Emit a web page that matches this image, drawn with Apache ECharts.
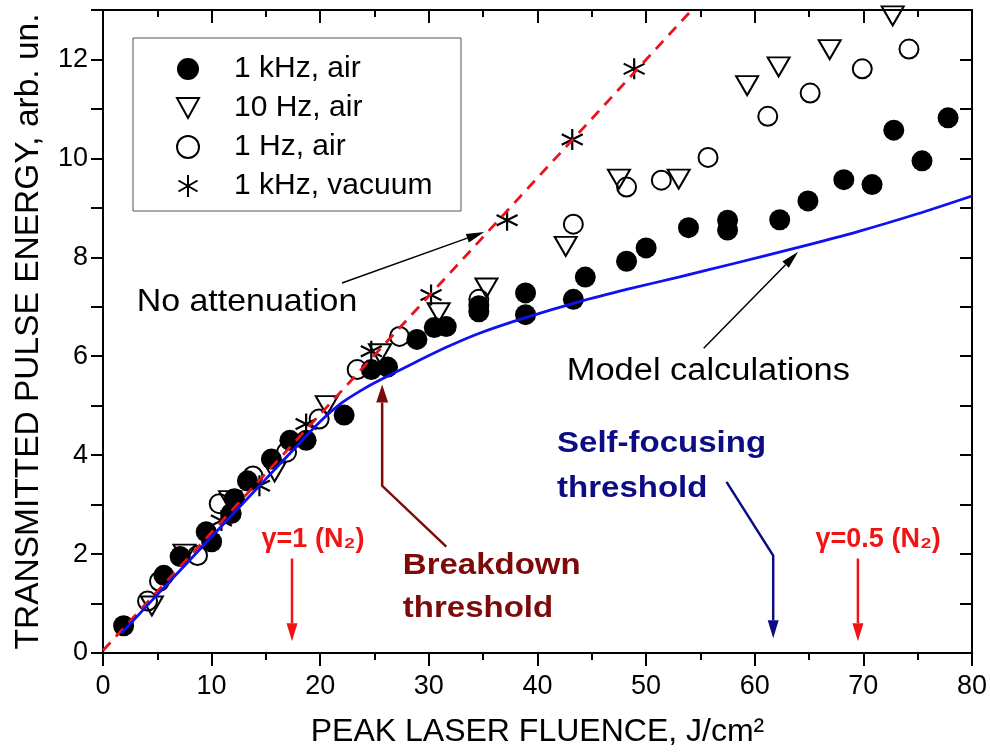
<!DOCTYPE html>
<html>
<head>
<meta charset="utf-8">
<script src="https://cdn.jsdelivr.net/npm/echarts@6/dist/echarts.min.js"></script>
<style>
  html, body { margin: 0; padding: 0; background: #fff; }
  #chart { width: 990px; height: 753px; }
</style>
</head>
<body>
<div id="chart"></div>
<script>
// measured points [fluence J/cm2, energy arb. un.]
const kHzAir = [
  [1.9, 0.55], [5.6, 1.57], [7.1, 1.95], [9.5, 2.45], [10.0, 2.25], [11.8, 2.82],
  [12.1, 3.12], [13.3, 3.48], [15.5, 3.92], [17.2, 4.3], [18.7, 4.3], [22.2, 4.81],
  [24.7, 5.73], [26.2, 5.78], [28.9, 6.34], [30.5, 6.58], [31.6, 6.6], [34.6, 6.9],
  [34.6, 7.02], [38.9, 7.28], [38.9, 6.84], [43.3, 7.15], [44.4, 7.6], [48.2, 7.92],
  [50.0, 8.19], [53.9, 8.6], [57.5, 8.75], [57.5, 8.55], [62.3, 8.76], [64.9, 9.14],
  [68.2, 9.57], [70.8, 9.47], [72.8, 10.57], [75.4, 9.95], [77.8, 10.82]
]
const tenHzAir = [
  [4.5, 0.95], [7.5, 2.0], [11.7, 3.08], [15.8, 3.66], [20.6, 5.0], [25.5, 6.05],
  [30.9, 6.88], [35.3, 7.38], [42.6, 8.22], [47.5, 9.58], [53.0, 9.58], [59.3, 11.47],
  [62.2, 11.85], [66.9, 12.2], [72.7, 12.88]
]
const oneHzAir = [
  [4.1, 1.05], [5.2, 1.45], [8.7, 1.97], [10.7, 3.02], [13.8, 3.58], [16.9, 4.06],
  [19.9, 4.73], [23.4, 5.73], [27.3, 6.4], [34.6, 7.15], [43.3, 8.67], [48.2, 9.42],
  [51.4, 9.56], [55.7, 10.02], [61.2, 10.85], [65.1, 11.32], [69.9, 11.81], [74.2, 12.21]
]
const kHzVacuum = [
  [10.9, 2.68], [14.4, 3.38], [18.7, 4.63], [24.7, 6.1], [30.2, 7.24], [37.2, 8.75],
  [43.2, 10.38], [48.9, 11.81]
]
// no attenuation line and model calculation curve
const noAttenuation = [[0, 0.05], [54.2, 13.0]]
const model = [
  [1.7, 0.4], [5, 1.18], [10, 2.35], [15, 3.52], [18, 4.22], [20, 4.68], [22, 5.06],
  [24, 5.34], [25.5, 5.52], [28.5, 5.85], [31.6, 6.18], [34.6, 6.46], [38.9, 6.78],
  [43.8, 7.1], [48.4, 7.36], [53, 7.6], [58, 7.87], [64, 8.2], [69.5, 8.52],
  [75, 8.88], [80, 9.24]
]
const xRange = [0, 80]
const yRange = [0, 13]
const legendNames = ['1 kHz, air', '10 Hz, air', '1 Hz, air', '1 kHz, vacuum']

const FONT = '"Liberation Sans", Arial, sans-serif'
const triDown = 'path://M0,0 L20,0 L10,18 Z'
const star = 'path://M10,0 L10,20 M1.34,5 L18.66,15 M1.34,15 L18.66,5'

const chart = echarts.init(document.getElementById('chart'))

const xBase = {
  type: 'value', min: xRange[0], max: xRange[1], interval: 10,
  splitLine: { show: false },
  axisLine: { onZero: false, lineStyle: { color: '#000', width: 2 } },
  axisTick: { length: 13, lineStyle: { color: '#000', width: 2 } },
  minorTick: { show: true, splitNumber: 2, length: 7, lineStyle: { color: '#000', width: 2 } }
}
const yBase = {
  type: 'value', min: yRange[0], max: yRange[1], interval: 1,
  splitLine: { show: false },
  axisLine: { onZero: false, lineStyle: { color: '#000', width: 2 } },
  axisTick: { length: 12, lineStyle: { color: '#000', width: 2 } }
}

const option = {
  animation: false,
  grid: { left: 103, right: 16, top: 10, bottom: 98 },
  legend: {
    data: legendNames,
    orient: 'vertical',
    left: 171,
    top: 45,
    itemWidth: 22,
    itemHeight: 22,
    itemGap: 1,
    selectedMode: false,
    textStyle: { fontSize: 30, lineHeight: 38, fontFamily: FONT, color: '#000', padding: [0, 0, 0, 30] }
  },
  xAxis: [
    Object.assign({}, xBase, {
      position: 'bottom',
      axisTick: Object.assign({}, xBase.axisTick, { inside: false }),
      minorTick: Object.assign({}, xBase.minorTick),
      axisLabel: { fontSize: 27, color: '#000', fontFamily: FONT, margin: 20 },
      name: 'PEAK LASER FLUENCE, J/cm²',
      nameLocation: 'middle',
      nameGap: 63,
      nameTextStyle: { fontSize: 32, color: '#000', fontFamily: FONT }
    }),
    Object.assign({}, xBase, {
      position: 'top',
      axisTick: Object.assign({}, xBase.axisTick, { inside: true }),
      axisLabel: { show: false }
    })
  ],
  yAxis: [
    Object.assign({}, yBase, {
      position: 'left',
      axisTick: Object.assign({}, yBase.axisTick, { inside: false }),
      axisLabel: {
        fontSize: 27, color: '#000', fontFamily: FONT, margin: 15,
        formatter: v => (v % 2 === 0 ? String(v) : '')
      },
      name: 'TRANSMITTED PULSE ENERGY, arb. un.',
      nameLocation: 'middle',
      nameGap: 57,
      nameTextStyle: { fontSize: 33.5, color: '#000', fontFamily: FONT }
    }),
    Object.assign({}, yBase, {
      position: 'right',
      axisTick: Object.assign({}, yBase.axisTick, { inside: true }),
      axisLabel: { show: false }
    })
  ],
  series: [
    {
      name: '1 kHz, air', type: 'scatter', data: kHzAir,
      symbol: 'circle', symbolSize: 21,
      itemStyle: { color: '#000', opacity: 1 }
    },
    {
      name: '10 Hz, air', type: 'scatter', data: tenHzAir,
      symbol: triDown, symbolSize: [22, 19],
      itemStyle: { color: 'rgba(0,0,0,0)', borderColor: '#000', borderWidth: 2, opacity: 1 }
    },
    {
      name: '1 Hz, air', type: 'scatter', data: oneHzAir,
      symbol: 'circle', symbolSize: 19,
      itemStyle: { color: 'rgba(0,0,0,0)', borderColor: '#000', borderWidth: 2, opacity: 1 }
    },
    {
      name: '1 kHz, vacuum', type: 'scatter', data: kHzVacuum,
      symbol: star, symbolSize: 21,
      itemStyle: { color: 'rgba(0,0,0,0)', borderColor: '#000', borderWidth: 2.2, opacity: 1 }
    },
    {
      name: 'No attenuation', type: 'line', data: noAttenuation, z: 5,
      symbol: 'none', lineStyle: { color: '#e8141c', width: 2.8, type: [11, 8] }
    },
    {
      name: 'Model calculations', type: 'line', data: model, z: 5,
      symbol: 'none', smooth: 0.3,
      lineStyle: { color: '#1010f0', width: 2.8 }
    }
  ]
}

chart.setOption(option)

// annotations, anchored in data coordinates
const toPx = p => chart.convertToPixel({ xAxisIndex: 0, yAxisIndex: 0 }, p)

function arrow(points, color, width, headLen, headWidth) {
  const pts = points.map(toPx)
  const a = pts[pts.length - 2]
  const b = pts[pts.length - 1]
  const ang = Math.atan2(b[1] - a[1], b[0] - a[0])
  const base = [b[0] - headLen * Math.cos(ang), b[1] - headLen * Math.sin(ang)]
  const nx = -Math.sin(ang) * headWidth / 2
  const ny = Math.cos(ang) * headWidth / 2
  return [
    {
      type: 'polyline', z: 10,
      shape: { points: pts.slice(0, -1).concat([base]) },
      style: { stroke: color, lineWidth: width, fill: null }
    },
    {
      type: 'polygon', z: 10,
      shape: { points: [b, [base[0] + nx, base[1] + ny], [base[0] - nx, base[1] - ny]] },
      style: { fill: color }
    }
  ]
}

// the source figure's lettering is a little wider than Arial, hence stretch
function label(text, pos, color, size, bold, stretch) {
  const p = toPx(pos)
  return {
    type: 'text', z: 10, x: p[0], y: p[1], scaleX: stretch || 1,
    style: {
      text: text, fill: color, fontSize: size, fontFamily: FONT,
      fontWeight: bold ? 'bold' : 'normal',
      verticalAlign: 'middle', textVerticalAlign: 'middle'
    }
  }
}

const RED = '#f01414'
const DARKRED = '#7d0a0a'
const NAVY = '#0c0c84'

const graphics = [
  {
    type: 'rect', z: 1,
    shape: { x: 133, y: 38, width: 328, height: 173 },
    style: { fill: null, stroke: '#555', lineWidth: 1 }
  },
  label('No attenuation', [3.1, 7.1], '#000', 32, false, 1.06),
  ...arrow([[22.0, 7.48], [35.1, 8.51]], '#000', 1.5, 18, 9),
  label('Model calculations', [42.7, 5.69], '#000', 31, false, 1.11),
  ...arrow([[55.3, 6.16], [64.0, 8.11]], '#000', 1.5, 18, 9),
  label('Breakdown', [27.6, 1.77], DARKRED, 30, true, 1.1),
  label('threshold', [27.6, 0.9], DARKRED, 30, true, 1.1),
  ...arrow([[31.6, 2.15], [25.7, 3.38], [25.7, 5.43]], DARKRED, 2.5, 18, 12),
  label('Self-focusing', [41.8, 4.23], NAVY, 30, true, 1.1),
  label('threshold', [41.8, 3.32], NAVY, 30, true, 1.1),
  ...arrow([[57.4, 3.46], [61.7, 1.97], [61.7, 0.3]], NAVY, 2.5, 18, 11),
  label('γ=1 (N₂)', [14.6, 2.29], RED, 27, true),
  ...arrow([[17.4, 1.91], [17.4, 0.24]], RED, 2.5, 18, 11),
  label('γ=0.5 (N₂)', [65.6, 2.29], RED, 27, true),
  ...arrow([[69.5, 1.91], [69.5, 0.24]], RED, 2.5, 18, 11)
]

chart.setOption({ graphic: graphics })
window.addEventListener('resize', () => chart.resize())
</script>
</body>
</html>
